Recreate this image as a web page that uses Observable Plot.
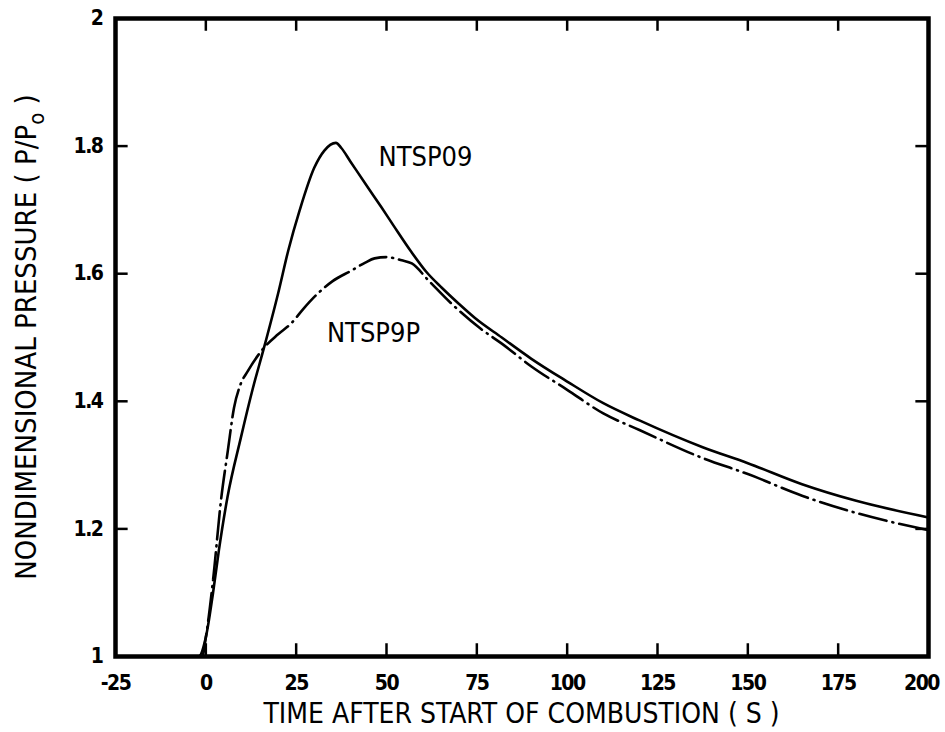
<!DOCTYPE html>
<html>
<head>
<meta charset="utf-8">
<script src="https://cdn.jsdelivr.net/npm/d3@7"></script>
<script src="https://cdn.jsdelivr.net/npm/@observablehq/plot@0.6"></script>
<style>
  html, body { margin: 0; padding: 0; background: #fff; }
  #chart { width: 945px; height: 732px; }
</style>
</head>
<body>
<div id="chart"></div>
<script>
// ---- data ----
const tSolid = [-25, -2, 0, 2, 3.6, 6, 9.7, 13, 16.1, 20, 22.8, 26, 30, 32.8, 36, 37.5, 40, 45, 48.6, 52, 56.9, 61, 65.3, 70, 74.4, 81.9, 90, 100, 110, 120, 137.5, 150, 165, 180, 200];
const pSolid = [1.0, 1.0, 1.03, 1.1, 1.166, 1.25, 1.343, 1.42, 1.484, 1.569, 1.636, 1.70, 1.766, 1.793, 1.805, 1.797, 1.776, 1.734, 1.704, 1.675, 1.634, 1.603, 1.578, 1.553, 1.531, 1.500, 1.467, 1.431, 1.397, 1.370, 1.328, 1.303, 1.270, 1.244, 1.218];

const tDash = [-25, -1, 0, 2, 4.2, 6.1, 7.8, 9.5, 11.7, 16.1, 20, 23.6, 27, 31, 35, 40.3, 44, 46.7, 50, 54.2, 57, 61.7, 68, 76, 82, 90, 100, 110, 120, 137.5, 150, 165, 180, 200];
const pDash = [1.0, 1.0, 1.03, 1.12, 1.245, 1.323, 1.39, 1.425, 1.448, 1.484, 1.505, 1.522, 1.545, 1.569, 1.588, 1.605, 1.617, 1.624, 1.626, 1.621, 1.616, 1.589, 1.553, 1.514, 1.490, 1.455, 1.418, 1.381, 1.355, 1.311, 1.286, 1.252, 1.225, 1.198];

const seriesNames = ["NTSP09", "NTSP9P"];
const labelT = [60.8, 46.4];
const labelP = [1.782, 1.506];

const xTicks = [-25, 0, 25, 50, 75, 100, 125, 150, 175, 200];
const xTickLabels = ["-25", "0", "25", "50", "75", "100", "125", "150", "175", "200"];
const yTicks = [1, 1.2, 1.4, 1.6, 1.8, 2];
const yTickLabels = ["1", "1.2", "1.4", "1.6", "1.8", "2"];

const xTitle = "TIME AFTER START OF COMBUSTION ( S )";
const yTitleMain = "NONDIMENSIONAL PRESSURE ( P/P";
const yTitleSub = "o";
const yTitleEnd = " )";

// ---- build tables ----
const solid = tSolid.map((t, i) => ({t, p: pSolid[i]}));
const dash = tDash.map((t, i) => ({t, p: pDash[i]}));
const labels = seriesNames.map((s, i) => ({s, t: labelT[i], p: labelP[i]}));

const FONT = "'DejaVu Sans Condensed', 'Liberation Sans Narrow', 'Arial Narrow', sans-serif";

const plot = Plot.plot({
  width: 945,
  height: 732,
  marginLeft: 115,
  marginRight: 17,
  marginTop: 18,
  marginBottom: 76,
  style: {fontFamily: FONT, background: "#fff", color: "#000", overflow: "visible"},
  x: {domain: [-25, 200]},
  y: {domain: [1, 2]},
  marks: [
    Plot.axisX({ticks: xTicks, tickSize: 0, tickPadding: 19, fontSize: 21, fontWeight: "bold",
      tickFormat: (d) => xTickLabels[xTicks.indexOf(d)], label: null}),
    Plot.axisY({ticks: yTicks, tickSize: 0, tickPadding: 13, fontSize: 21, fontWeight: "bold",
      tickFormat: (d) => yTickLabels[yTicks.indexOf(d)], label: null}),
    // inward ticks on all four sides
    Plot.ruleX(xTicks, {x: d => d, y1: 1, y2: 1.02, stroke: "#000", strokeWidth: 2.5}),
    Plot.ruleX(xTicks, {x: d => d, y1: 1.98, y2: 2, stroke: "#000", strokeWidth: 2.5}),
    Plot.ruleY(yTicks, {y: d => d, x1: -25, x2: -21.5, stroke: "#000", strokeWidth: 2.5}),
    Plot.ruleY(yTicks, {y: d => d, x1: 196.5, x2: 200, stroke: "#000", strokeWidth: 2.5}),
    Plot.line(dash, {x: "t", y: "p", stroke: "#000", strokeWidth: 2.6, strokeDasharray: "28,6,1,6", strokeLinecap: "round", curve: "monotone-x"}),
    Plot.line(solid, {x: "t", y: "p", stroke: "#000", strokeWidth: 2.6, curve: "monotone-x"}),
    Plot.text(labels, {x: "t", y: "p", text: "s", fontSize: 27, fill: "#000", fontFamily: FONT}),
    Plot.frame({stroke: "#000", strokeWidth: 4.5})
  ]
});

document.getElementById("chart").appendChild(plot);

const svg = d3.select(plot);
// tighten tick labels (condensed look of the original lettering)
const tickTexts = new Set([...xTickLabels, ...yTickLabels]);
svg.selectAll("text")
  .filter(function() { return tickTexts.has(this.textContent); })
  .style("letter-spacing", "-1.5px");
// keep the last x label inside the picture, as in the original
svg.selectAll("text")
  .filter(function() { return this.textContent === xTickLabels[xTickLabels.length - 1]; })
  .attr("dx", -7);

// x axis title
svg.append("text")
  .attr("x", (115 + 928) / 2)
  .attr("y", 723)
  .attr("text-anchor", "middle")
  .attr("font-family", FONT)
  .attr("font-size", 28)
  .attr("fill", "#000")
  .text(xTitle);

// y axis title with subscript
const yt = svg.append("text")
  .attr("transform", "translate(36," + ((18 + 656) / 2) + ") rotate(-90)")
  .attr("text-anchor", "middle")
  .attr("font-family", FONT)
  .attr("font-size", 29)
  .attr("fill", "#000");
yt.append("tspan").text(yTitleMain);
yt.append("tspan").attr("dy", 8).attr("font-size", 22).text(yTitleSub);
yt.append("tspan").attr("dy", -8).text(yTitleEnd);
</script>
</body>
</html>
